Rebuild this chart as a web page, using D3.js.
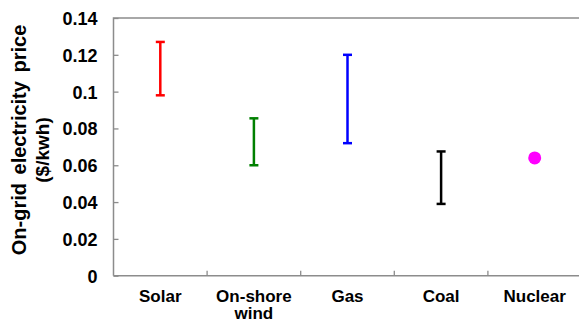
<!DOCTYPE html>
<html><head><meta charset="utf-8">
<script src="https://cdn.jsdelivr.net/npm/d3@7"></script>
<style>
html,body{margin:0;padding:0;background:#fff;overflow:hidden;}
text{font-family:"Liberation Sans",Arial,sans-serif;font-weight:bold;fill:#000;}
</style></head>
<body><svg id="c" width="579" height="323"></svg>
<script>
const categories = ["Solar", "On-shore wind", "Gas", "Coal", "Nuclear"];
const lowValues  = [0.098, 0.060, 0.072, 0.039, 0.064];
const highValues = [0.127, 0.0855, 0.120, 0.0675, 0.064];
const colors     = ["#ff0000", "#008000", "#0000ff", "#000000", "#ff00ff"];
const yTicks     = [0, 0.02, 0.04, 0.06, 0.08, 0.1, 0.12, 0.14];
const yTitle     = ["On-grid electricity price", "($/kwh)"];

const svg = d3.select("#c");
const L = 113.5, R = 581.5, T = 18, B = 275.7;
const x = d3.scaleBand().domain(categories).range([L, R]);
const y = d3.scaleLinear().domain([0, 0.14]).range([B, T]);
const axisColor = "#8c8c8c";

svg.append("path").attr("d", `M${L},${B}V${T}H${R}`).attr("fill","none").attr("stroke",axisColor).attr("stroke-width",1.5);
svg.append("line").attr("x1",L).attr("x2",R).attr("y1",B).attr("y2",B).attr("stroke",axisColor).attr("stroke-width",1.5);

const ya = svg.append("g").attr("transform",`translate(${L},0)`)
  .call(d3.axisLeft(y).tickValues(yTicks).tickSize(-5).tickPadding(16).tickFormat(d => d3.format("")(+d.toFixed(2))));
ya.select(".domain").remove();
ya.selectAll(".tick line").attr("stroke",axisColor).attr("stroke-width",1.3);
ya.selectAll(".tick text").style("font-size","18px").attr("dy","0.36em");

const xa = svg.append("g");
categories.forEach((c,i) => {
  if (i === 0) return;
  xa.append("line").attr("x1",x(c)).attr("x2",x(c)).attr("y1",B).attr("y2",B-5)
    .attr("stroke",axisColor).attr("stroke-width",1.3);
});
categories.forEach(c => {
  const words = c === "On-shore wind" ? ["On-shore","wind"] : [c];
  const t = svg.append("text").attr("x", x(c)+x.bandwidth()/2).attr("y", 301.5)
    .attr("text-anchor","middle").style("font-size","17px");
  words.forEach((w,j) => t.append("tspan").attr("x", x(c)+x.bandwidth()/2).attr("dy", j?17.5:0).text(w));
});

categories.forEach((c,i) => {
  const cx = x(c) + x.bandwidth()/2;
  if (lowValues[i] === highValues[i]) {
    svg.append("circle").attr("cx",cx).attr("cy",y(lowValues[i])).attr("r",6.5).attr("fill",colors[i]);
  } else {
    const g = svg.append("g").attr("stroke",colors[i]).attr("stroke-width",2.5).attr("fill","none");
    g.append("line").attr("x1",cx).attr("x2",cx).attr("y1",y(lowValues[i])).attr("y2",y(highValues[i]));
    [lowValues[i], highValues[i]].forEach(v =>
      g.append("line").attr("x1",cx-4.5).attr("x2",cx+4.5).attr("y1",y(v)).attr("y2",y(v)));
  }
});

svg.append("text").attr("transform","translate(25.5,140) rotate(-90)").attr("text-anchor","middle")
  .style("font-size","20px").style("word-spacing","3px").text(yTitle[0]);
svg.append("text").attr("transform","translate(49,150) rotate(-90)").attr("text-anchor","middle")
  .style("font-size","19px").text(yTitle[1]);
</script></body></html>
